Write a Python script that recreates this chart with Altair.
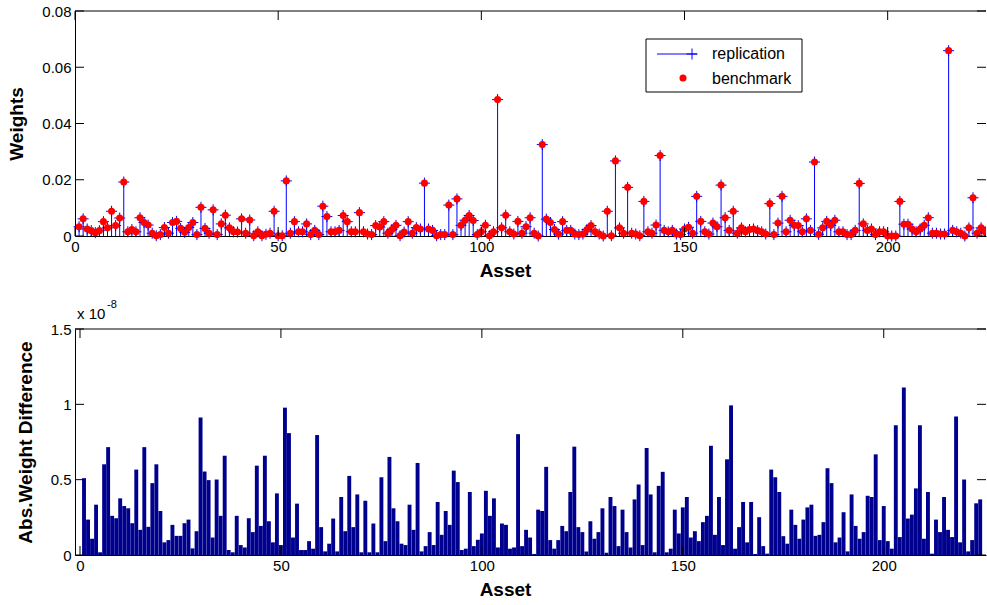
import altair as alt
import pandas as pd

FONT = "Liberation Sans"

asset_ticks = [0, 50, 100, 150, 200]
weight_ticks = [0, 0.02, 0.04, 0.06, 0.08]
diff_ticks = [0, 0.5, 1, 1.5]

# portfolio weights (replication == benchmark), assets 1..224
weights = [
    0.0033, 0.0061, 0.0025, 0.0019, 0.0012, 0.0019, 0.0051, 0.0029, 0.0088, 0.0037,
    0.0064, 0.0192, 0.0015, 0.0023, 0.0015, 0.0065, 0.0048, 0.0039, 0.0010, 0.0001,
    0.0005, 0.0030, 0.0010, 0.0048, 0.0052, 0.0027, 0.0013, 0.0030, 0.0048, 0.0005,
    0.0102, 0.0027, 0.0010, 0.0093, 0.0005, 0.0043, 0.0074, 0.0029, 0.0015, 0.0014,
    0.0061, 0.0010, 0.0057, 0.0001, 0.0015, 0.0001, 0.0006, 0.0010, 0.0088, 0.0001,
    0.0001, 0.0196, 0.0010, 0.0051, 0.0015, 0.0015, 0.0043, 0.0005, 0.0020, 0.0005,
    0.0106, 0.0069, 0.0015, 0.0015, 0.0020, 0.0073, 0.0051, 0.0015, 0.0015, 0.0083,
    0.0015, 0.0007, 0.0005, 0.0037, 0.0032, 0.0051, 0.0010, 0.0023, 0.0038, 0.0001,
    0.0014, 0.0051, 0.0010, 0.0030, 0.0025, 0.0188, 0.0025, 0.0020, 0.0001, 0.0005,
    0.0005, 0.0110, 0.0005, 0.0132, 0.0038, 0.0056, 0.0073, 0.0055, 0.0005, 0.0015,
    0.0038, 0.0001, 0.0015, 0.0485, 0.0029, 0.0074, 0.0015, 0.0007, 0.0052, 0.0010,
    0.0033, 0.0065, 0.0010, 0.0000, 0.0325, 0.0060, 0.0048, 0.0023, 0.0007, 0.0051,
    0.0020, 0.0020, 0.0007, 0.0005, 0.0007, 0.0023, 0.0037, 0.0015, 0.0007, 0.0000,
    0.0088, 0.0001, 0.0267, 0.0029, 0.0010, 0.0173, 0.0010, 0.0007, 0.0001, 0.0123,
    0.0015, 0.0010, 0.0039, 0.0286, 0.0020, 0.0015, 0.0020, 0.0007, 0.0005, 0.0025,
    0.0031, 0.0010, 0.0141, 0.0052, 0.0015, 0.0007, 0.0046, 0.0033, 0.0181, 0.0065,
    0.0020, 0.0088, 0.0010, 0.0029, 0.0015, 0.0023, 0.0025, 0.0019, 0.0015, 0.0007,
    0.0115, 0.0005, 0.0046, 0.0141, 0.0015, 0.0056, 0.0038, 0.0037, 0.0015, 0.0061,
    0.0020, 0.0263, 0.0006, 0.0029, 0.0052, 0.0038, 0.0056, 0.0015, 0.0015, 0.0005,
    0.0005, 0.0020, 0.0187, 0.0043, 0.0020, 0.0025, 0.0005, 0.0015, 0.0015, 0.0000,
    0.0000, 0.0000, 0.0123, 0.0042, 0.0042, 0.0025, 0.0015, 0.0025, 0.0038, 0.0065,
    0.0010, 0.0010, 0.0007, 0.0007, 0.0659, 0.0020, 0.0015, 0.0010, 0.0000, 0.0029,
    0.0136, 0.0010, 0.0029, 0.0015,
]

# absolute weight difference, in units of 1e-8
diff = [
    0.51, 0.235, 0.108, 0.334, 0.018, 0.602, 0.716, 0.26, 0.244, 0.376,
    0.325, 0.31, 0.211, 0.567, 0.167, 0.716, 0.187, 0.477, 0.602, 0.292,
    0.084, 0.099, 0.2, 0.127, 0.127, 0.211, 0.235, 0.044, 0.158, 0.912,
    0.554, 0.497, 0.116, 0.501, 0.26, 0.659, 0.033, 0.018, 0.26, 0.066,
    0.05, 0.244, 0.152, 0.593, 0.193, 0.659, 0.224, 0.084, 0.409, 0.066,
    0.978, 0.809, 0.116, 0.341, 0.033, 0.033, 0.092, 0.042, 0.796, 0.185,
    0.024, 0.075, 0.242, 0.024, 0.385, 0.158, 0.525, 0.185, 0.402, 0.018,
    0.36, 0.018, 0.209, 0.018, 0.516, 0.092, 0.651, 0.31, 0.224, 0.075,
    0.066, 0.334, 0.167, 0.611, 0.024, 0.059, 0.152, 0.066, 0.352, 0.134,
    0.292, 0.2, 0.56, 0.484, 0.033, 0.042, 0.418, 0.059, 0.101, 0.143,
    0.426, 0.26, 0.376, 0.05, 0.209, 0.2, 0.042, 0.05, 0.802, 0.059,
    0.167, 0.116, 0.007, 0.301, 0.292, 0.585, 0.099, 0.042, 0.099, 0.193,
    0.158, 0.418, 0.719, 0.185, 0.152, 0.024, 0.224, 0.108, 0.152, 0.31,
    0.015, 0.385, 0.325, 0.059, 0.301, 0.152, 0.05, 0.369, 0.468, 0.066,
    0.71, 0.402, 0.018, 0.459, 0.552, 0.018, 0.042, 0.301, 0.143, 0.316,
    0.385, 0.116, 0.158, 0.092, 0.218, 0.26, 0.725, 0.134, 0.385, 0.066,
    0.635, 0.993, 0.042, 0.185, 0.352, 0.084, 0.352, 0.007, 0.251, 0.059,
    0.009, 0.567, 0.516, 0.418, 0.125, 0.075, 0.301, 0.2, 0.108, 0.235,
    0.316, 0.334, 0.127, 0.134, 0.218, 0.576, 0.477, 0.084, 0.116, 0.284,
    0.024, 0.402, 0.193, 0.108, 0.152, 0.393, 0.385, 0.668, 0.099, 0.325,
    0.092, 0.042, 0.862, 0.119, 1.112, 0.242, 0.268, 0.442, 0.862, 0.108,
    0.418, 0.009, 0.235, 0.152, 0.385, 0.167, 0.119, 0.919, 0.084, 0.501,
    0.024, 0.099, 0.343, 0.369,
]

assets = list(range(1, len(weights) + 1))

W = 911
H1 = 225
H2 = 226
XMAX = 224.2
TICK = 9
PLUS = "M-1,0L1,0M0,-1L0,1"
EDGE = 222  # markers beyond this asset are clipped at the (cropped) right border

df_top = pd.DataFrame({"asset": assets, "weight": weights})
df_bot = pd.DataFrame({"asset": assets, "diff": diff})
df_xt = pd.DataFrame({"asset": asset_ticks})
df_yt1 = pd.DataFrame({"weight": weight_ticks})
df_yt2 = pd.DataFrame({"diff": diff_ticks})
one = pd.DataFrame({"k": [0]})

xscale = alt.Scale(domain=[0, XMAX], nice=False, zero=False)
yscale1 = alt.Scale(domain=[0, 0.08], nice=False)
yscale2 = alt.Scale(domain=[0, 1.5], nice=False)

xaxis = alt.Axis(values=asset_ticks, ticks=False, grid=False, domain=True,
                 domainColor="black", domainWidth=1, labelFlush=False,
                 labelFont=FONT, labelFontSize=15, labelColor="black", labelPadding=3,
                 title="Asset", titleFont=FONT, titleFontSize=19, titleFontWeight="bold",
                 titleColor="black", titleX=430, titleY=25, titleAlign="center",
                 titleBaseline="top")


def yaxis(vals, title):
    return alt.Axis(values=vals, format="~g", ticks=False, grid=False, domain=True,
                    domainColor="black", domainWidth=1, labelFlush=False,
                    labelFont=FONT, labelFontSize=15, labelColor="black", labelPadding=4,
                    title=title, titleFont=FONT, titleFontSize=19, titleFontWeight="bold",
                    titleColor="black", titlePadding=15)


X = alt.X("asset:Q", scale=xscale, axis=xaxis)
Y1 = alt.Y("weight:Q", scale=yscale1, axis=yaxis(weight_ticks, "Weights"))
Y2 = alt.Y("diff:Q", scale=yscale2, axis=yaxis(diff_ticks, "Abs.Weight Difference"))


def frame(y_enc, ydf, h):
    bx = alt.Chart(df_xt).mark_rule(color="black", strokeWidth=1).encode(
        x=X, y=alt.value(h), y2=alt.value(h - TICK))
    tx = alt.Chart(df_xt).mark_rule(color="black", strokeWidth=1).encode(
        x=X, y=alt.value(0), y2=alt.value(TICK))
    ly = alt.Chart(ydf).mark_rule(color="black", strokeWidth=1).encode(
        y=y_enc, x=alt.value(0), x2=alt.value(TICK))
    ry = alt.Chart(ydf).mark_rule(color="black", strokeWidth=1).encode(
        y=y_enc, x=alt.value(W - TICK), x2=alt.value(W))
    top = alt.Chart(one).mark_rule(color="black", strokeWidth=1).encode(
        x=alt.value(0), x2=alt.value(W), y=alt.value(0))
    return [bx, tx, ly, ry, top]


def markers(clip, cond):
    base = alt.Chart(df_top).transform_filter(cond)
    p = base.mark_point(shape=PLUS, filled=False, color="#0000FF", strokeWidth=1,
                        size=121, opacity=1, clip=clip).encode(x=X, y=Y1)
    d = base.mark_circle(color="#FF0000", size=50, opacity=1, clip=clip).encode(x=X, y=Y1)
    return p, d


stems = alt.Chart(df_top).mark_rule(color="#0000FF", strokeWidth=1, clip=True).encode(
    x=X, y=Y1, y2=alt.datum(0))
plus_in, dots_in = markers(False, alt.datum.asset <= EDGE)
plus_out, dots_out = markers(True, alt.datum.asset > EDGE)

leg_box = alt.Chart(one).mark_rect(fill="white", stroke="black", strokeWidth=1).encode(
    x=alt.value(571), x2=alt.value(727), y=alt.value(28), y2=alt.value(81))
leg_line = alt.Chart(one).mark_rule(color="#0000FF", strokeWidth=1).encode(
    x=alt.value(582), x2=alt.value(622), y=alt.value(43))
leg_plus = alt.Chart(one).mark_point(shape=PLUS, filled=False, color="#0000FF",
                                     strokeWidth=1, size=121, opacity=1).encode(
    x=alt.value(617), y=alt.value(43))
leg_dot = alt.Chart(one).mark_circle(color="#FF0000", size=50, opacity=1).encode(
    x=alt.value(608), y=alt.value(67))
leg_t1 = alt.Chart(one).mark_text(align="left", baseline="middle", font=FONT,
                                  fontSize=16, color="black").encode(
    x=alt.value(637), y=alt.value(43), text=alt.value("replication"))
leg_t2 = alt.Chart(one).mark_text(align="left", baseline="middle", font=FONT,
                                  fontSize=16, color="black").encode(
    x=alt.value(637), y=alt.value(68), text=alt.value("benchmark"))

top_chart = alt.layer(
    stems, plus_in, plus_out, dots_in, dots_out, *frame(Y1, df_yt1, H1),
    leg_box, leg_line, leg_plus, leg_dot, leg_t1, leg_t2,
).properties(width=W, height=H1)

bars = alt.Chart(df_bot).mark_bar(color="#00008F", size=3.9, clip=True).encode(x=X, y=Y2)
exp1 = alt.Chart(one).mark_text(align="left", baseline="alphabetic", font=FONT,
                                fontSize=15, color="black").encode(
    x=alt.value(2), y=alt.value(-10), text=alt.value("x 10"))
exp2 = alt.Chart(one).mark_text(align="left", baseline="alphabetic", font=FONT,
                                fontSize=11, color="black").encode(
    x=alt.value(32), y=alt.value(-21), text=alt.value("-8"))

bot_chart = alt.layer(bars, *frame(Y2, df_yt2, H2), exp1, exp2).properties(width=W, height=H2)

chart = alt.vconcat(top_chart, bot_chart, spacing=19).properties(
    padding={"left": 7, "top": 4, "right": 0, "bottom": 0},
    background="white",
).configure_view(strokeWidth=0)

chart.save("out.html", embed_options={"renderer": "svg", "actions": False})
